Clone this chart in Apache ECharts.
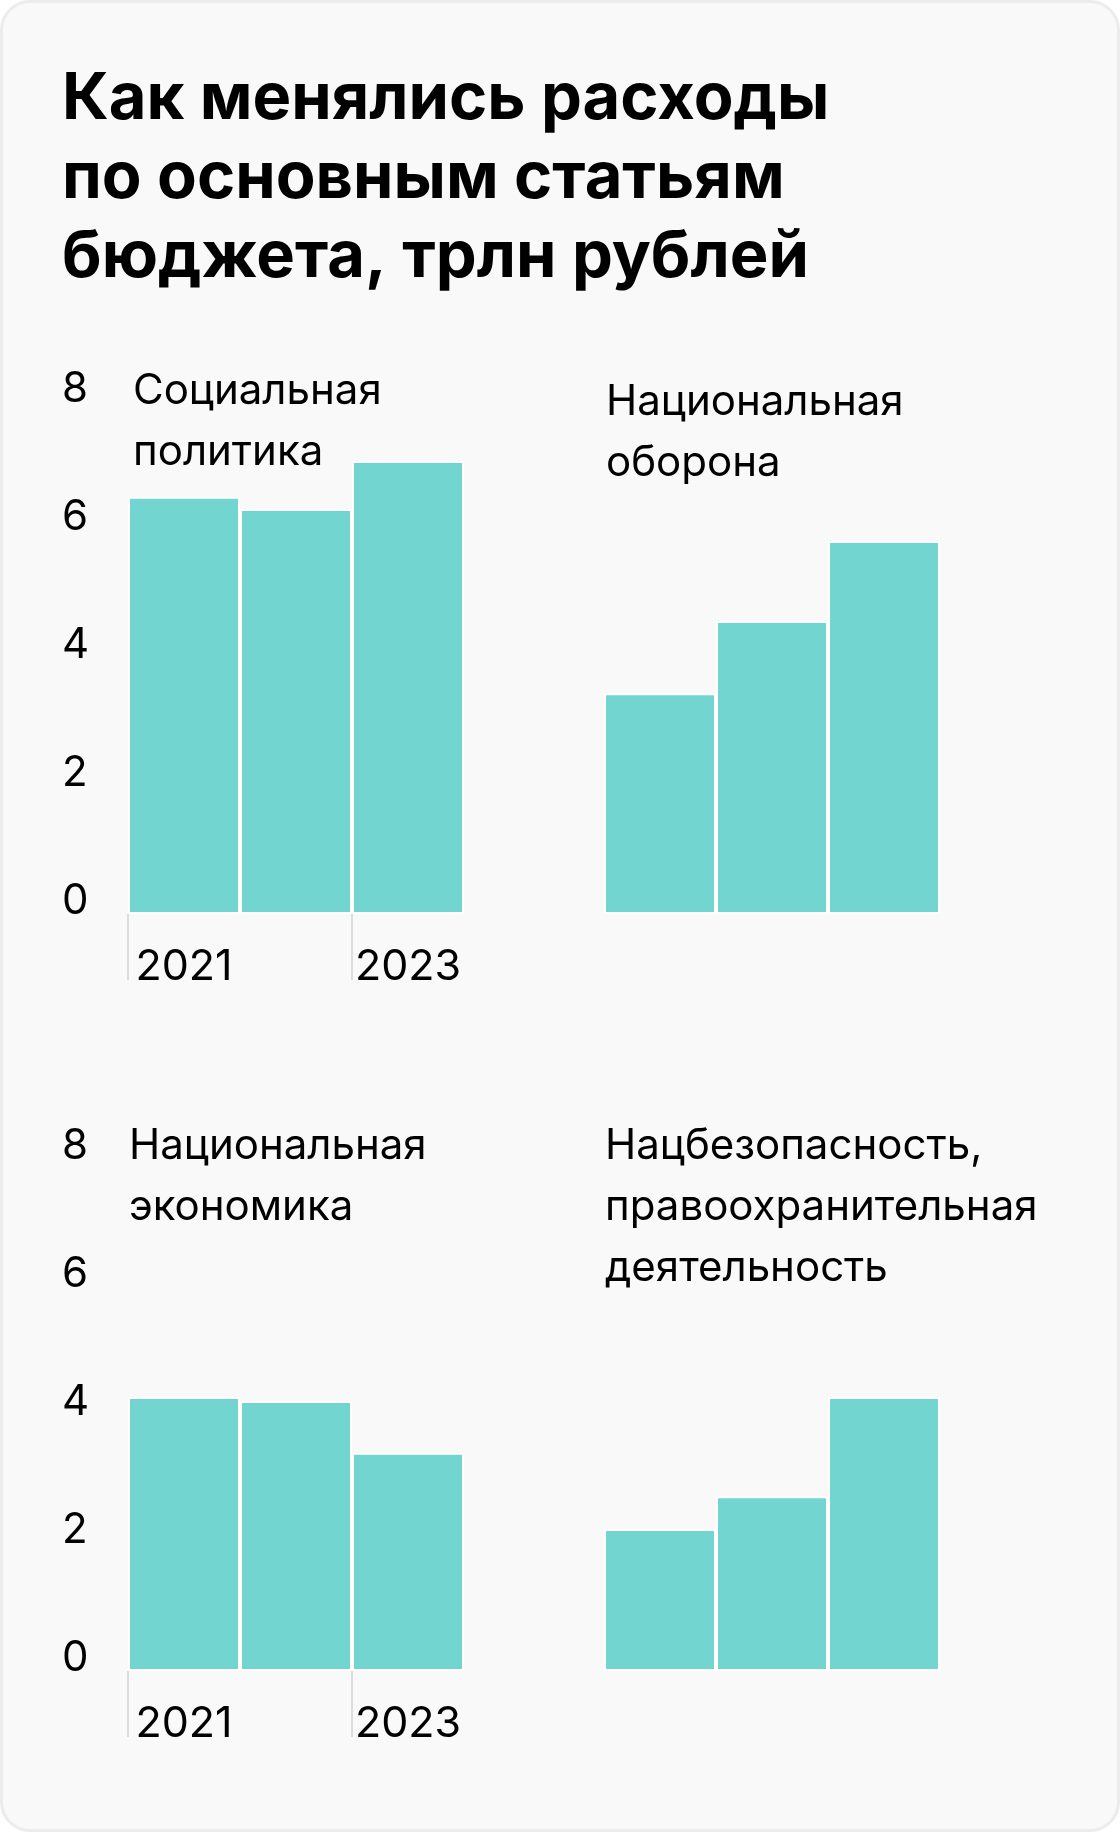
<!DOCTYPE html>
<html>
<head>
<meta charset="utf-8">
<script src="https://cdn.jsdelivr.net/npm/echarts@6/dist/echarts.min.js"></script>
<style>
  html, body { margin: 0; padding: 0; background: #fff; }
  #card {
    position: absolute; left: 0; top: 0; width: 1120px; height: 1832px;
    box-sizing: border-box; background: #f9f9f9;
    border: 3px solid #ececec; border-radius: 30px;
  }
  #main { position: absolute; left: 0; top: 0; width: 1120px; height: 1832px; }
</style>
</head>
<body>
<div id="card"></div>
<div id="main"></div>
<script>
  // data, trillions of rubles
  const years = ['2021', '2022', '2023'];
  const socialPolicy = [6.52, 6.33, 7.08];
  const nationalDefense = [3.45, 4.58, 5.83];
  const nationalEconomy = [4.28, 4.22, 3.41];
  const securityLaw = [2.22, 2.73, 4.28];
  const yTicks = [0, 2, 4, 6, 8];

  const panelNames = [
    'Социальная\nполитика',
    'Национальная\nоборона',
    'Национальная\nэкономика',
    'Нацбезопасность,\nправоохранительная\nдеятельность'
  ];
  const panelData = [socialPolicy, nationalDefense, nationalEconomy, securityLaw];

  const FONT = 'Inter, "Noto Sans", sans-serif';
  const barColor = '#73d5cf';
  const tickColor = '#dcdcdc';

  const myChart = echarts.init(document.getElementById('main'), null, { renderer: 'canvas' });

  // bar grids: left column at 128, right at 604, both 336 wide
  const grids = [
    { left: 128, top: 402, width: 336, height: 512 },
    { left: 604, top: 402, width: 336, height: 512 },
    { left: 128, top: 1159, width: 336, height: 512 },
    { left: 604, top: 1159, width: 336, height: 512 }
  ];
  // thin strips under the left panels that carry the long year ticks
  const tickGrids = [0, 2].map((i) => ({
    left: grids[i].left,
    width: grids[i].width,
    top: grids[i].top + grids[i].height,
    height: 66
  }));

  const labelPos = [
    { x: 133, y: 361 },
    { x: 606, y: 372 },
    { x: 129, y: 1116 },
    { x: 605, y: 1116 }
  ];

  const xAxes = grids.map((g, i) => {
    const showAxis = i === 0 || i === 2;
    return {
      type: 'category',
      gridIndex: i,
      data: years,
      axisLine: { show: false },
      axisTick: { show: false },
      axisLabel: {
        show: showAxis,
        interval: 1,
        margin: 53,
        verticalAlign: 'middle',
        color: '#000',
        fontFamily: FONT,
        fontSize: 43
      },
      splitLine: { show: false }
    };
  }).concat(tickGrids.map((g, k) => ({
    type: 'category',
    gridIndex: 4 + k,
    data: years,
    axisLine: { show: false },
    axisTick: { show: false },
    axisLabel: { show: false },
    splitLine: {
      show: true,
      interval: 1,
      showMinLine: true,
      showMaxLine: false,
      lineStyle: { color: tickColor, width: 2 }
    }
  })));

  const yAxes = grids.map((g, i) => {
    const showAxis = i === 0 || i === 2;
    return {
      type: 'value',
      gridIndex: i,
      min: yTicks[0],
      max: yTicks[yTicks.length - 1],
      interval: 2,
      axisLine: { show: false },
      axisTick: { show: false },
      splitLine: { show: false },
      axisLabel: {
        show: showAxis,
        align: 'left',
        verticalAlign: 'bottom',
        lineHeight: 26,
        margin: 66,
        color: '#000',
        fontFamily: FONT,
        fontSize: 42
      }
    };
  }).concat(tickGrids.map((g, k) => ({
    type: 'value',
    gridIndex: 4 + k,
    show: false
  })));

  const seriesData = panelData.map((values, i) => ({
    type: 'bar',
    xAxisIndex: i,
    yAxisIndex: i,
    data: values,
    barCategoryGap: '0%',
    itemStyle: { color: barColor, borderColor: '#ffffff', borderWidth: 2 },
    silent: true
  }));

  const option = {
    animation: false,
    title: {
      text: 'Как менялись расходы\nпо основным статьям\nбюджета, трлн рублей',
      left: 62,
      top: 60,
      padding: 0,
      textStyle: {
        fontFamily: FONT,
        fontWeight: 700,
        fontSize: 65,
        lineHeight: 79,
        color: '#000'
      }
    },
    grid: grids.concat(tickGrids),
    xAxis: xAxes,
    yAxis: yAxes,
    series: seriesData,
    graphic: panelNames.map((name, i) => ({
      type: 'text',
      x: labelPos[i].x,
      y: labelPos[i].y,
      style: {
        text: name,
        font: '400 42px ' + FONT,
        lineHeight: 61,
        fill: '#000',
        verticalAlign: 'top'
      }
    }))
  };

  myChart.setOption(option);
</script>
</body>
</html>
